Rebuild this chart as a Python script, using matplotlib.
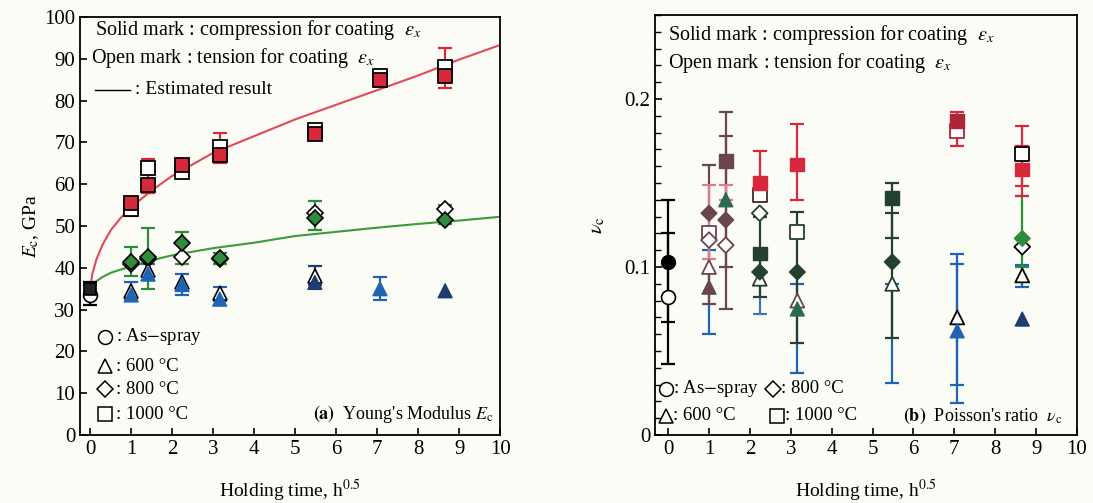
import matplotlib
matplotlib.use('Agg')
import matplotlib.pyplot as plt
import numpy as np

plt.rcParams['font.family'] = ['Liberation Serif', 'DejaVu Sans']
plt.rcParams['mathtext.fontset'] = 'stix'

BG = '#fcfcf6'
RED = '#d8283c'
GREEN = '#2f8c3c'
BLUE = '#1f64b0'
NAVY = '#1c3d6e'
MAUVE = '#6a4450'
DKGREEN = '#24402f'
TEAL = '#2a6a55'

# ---------------- (a) Young's modulus ----------------
# as-spray
x_as = [0]
E_as_solid = [35.0]
E_as_open = [33.5]
# 1000 C squares
x1000 = [1, 1.41, 2.24, 3.16, 5.48, 7.07, 8.66]
E1000_solid = [55.5, 59.8, 64.5, 67.0, 72.0, 85.0, 86.0]
E1000_open = [54.0, 63.8, 63.0, 69.0, 73.0, 85.8, 88.0]
# 800 C diamonds
x800 = [1, 1.41, 2.24, 3.16, 5.48, 8.66]
E800_solid = [41.5, 42.5, 46.0, 42.3, 52.0, 51.5]
E800_open = [40.8, 42.0, 42.5, 42.0, 53.0, 54.0]
# 600 C triangles
x600 = [1, 1.41, 2.24, 3.16, 5.48, 7.07, 8.66]
E600_solid = [33.5, 38.5, 36.0, 32.5, 36.5, 35.0, 34.5]
E600_solid_c = [BLUE, BLUE, BLUE, BLUE, NAVY, BLUE, NAVY]
x600_open = [1, 1.41, 2.24, 3.16, 5.48]
E600_open = [34.5, 39.5, 36.5, 34.0, 38.0]

# error bars (x, low, high, colour)
E_err = [
    (0, 31.0, 36.0, 'k'), (0, 34.0, 36.5, 'k'),
    (1, 52.5, 57.0, RED), (1.41, 58.0, 66.0, RED), (2.24, 61.5, 66.0, RED),
    (3.16, 65.0, 72.3, RED), (5.48, 71.0, 74.0, RED), (7.07, 84.0, 87.0, RED),
    (8.66, 83.0, 92.5, RED),
    (1, 38.0, 45.0, GREEN), (1.41, 35.0, 49.5, GREEN), (2.24, 41.0, 48.5, GREEN),
    (3.16, 41.0, 43.5, GREEN), (5.48, 49.0, 56.0, GREEN), (8.66, 50.5, 55.0, GREEN),
    (1, 32.5, 36.5, BLUE), (1.41, 37.0, 41.0, BLUE), (2.24, 33.5, 38.5, BLUE),
    (3.16, 32.0, 35.5, BLUE), (5.48, 36.0, 40.5, NAVY), (7.07, 32.3, 37.9, BLUE),
]

# estimated result curves
fit_x = [0, 0.05, 0.15, 0.3, 0.5, 0.75, 1, 1.5, 2, 3, 4, 5, 6, 7, 8, 9, 10]
fit1000 = [35, 38.5, 42, 45.5, 49, 52, 54.5, 58.5, 62, 67.5, 71.5, 75.5, 79, 82.5, 86, 89.8, 93.3]
fit800 = [35, 35.8, 36.8, 37.8, 38.8, 39.6, 40.3, 41.8, 43, 44.7, 46, 47.6, 48.6, 49.6, 50.5, 51.3, 52.2]

# ---------------- (b) Poisson's ratio ----------------
nu_circ_solid = [0.103]
nu_circ_open = [0.082]

xs_sq_solid = [1.41, 2.24, 2.24, 3.16, 5.48, 7.07, 8.66]
nu_sq_solid = [0.163, 0.150, 0.108, 0.161, 0.141, 0.187, 0.158]
c_sq_solid = [MAUVE, RED, DKGREEN, RED, DKGREEN, '#b0243a', RED]
xs_sq_open = [1, 2.24, 3.16, 7.07, 8.66]
nu_sq_open = [0.120, 0.143, 0.121, 0.181, 0.167]
c_sq_open = [MAUVE, '#3a2a2a', DKGREEN, '#b0243a', 'k']

xs_di_solid = [1, 1.41, 2.24, 3.16, 5.48, 8.66]
nu_di_solid = [0.132, 0.128, 0.097, 0.097, 0.103, 0.117]
c_di_solid = [MAUVE, MAUVE, DKGREEN, DKGREEN, DKGREEN, GREEN]
xs_di_open = [1, 1.41, 2.24, 8.66]
nu_di_open = [0.116, 0.113, 0.132, 0.112]
c_di_open = [MAUVE, MAUVE, DKGREEN, 'k']

xs_tr_solid = [1, 1.41, 3.16, 7.07, 8.66]
nu_tr_solid = [0.088, 0.140, 0.075, 0.062, 0.069]
c_tr_solid = [MAUVE, TEAL, TEAL, BLUE, NAVY]
xs_tr_open = [1, 2.24, 3.16, 5.48, 7.07, 8.66]
nu_tr_open = [0.100, 0.093, 0.080, 0.090, 0.070, 0.095]
c_tr_open = [MAUVE, DKGREEN, MAUVE, DKGREEN, 'k', 'k']

nu_err = [
    (0, 0.067, 0.140, 'k'), (0, 0.042, 0.120, 'k'),
    (1, 0.060, 0.110, BLUE), (1, 0.078, 0.161, MAUVE), (1, 0.105, 0.149, '#e07a8a'),
    (1.41, 0.075, 0.192, MAUVE), (1.41, 0.100, 0.178, MAUVE), (1.41, 0.140, 0.149, '#e07a8a'),
    (2.24, 0.072, 0.108, '#3a7ab0'), (2.24, 0.082, 0.130, DKGREEN), (2.24, 0.140, 0.169, RED),
    (3.16, 0.037, 0.090, BLUE), (3.16, 0.055, 0.133, DKGREEN), (3.16, 0.140, 0.185, RED),
    (5.48, 0.031, 0.090, BLUE), (5.48, 0.058, 0.150, DKGREEN), (5.48, 0.117, 0.132, DKGREEN),
    (7.07, 0.019, 0.108, BLUE), (7.07, 0.030, 0.102, BLUE), (7.07, 0.172, 0.192, RED),
    (8.66, 0.088, 0.101, BLUE), (8.66, 0.100, 0.142, GREEN), (8.66, 0.142, 0.184, RED),
    (8.66, 0.148, 0.172, RED),
]


def draw_err(ax, bars):
    for x, lo, hi, c in bars:
        ax.errorbar([x], [(lo + hi) / 2], yerr=[(hi - lo) / 2], fmt='none',
                    ecolor=c, elinewidth=1.6, capsize=5, capthick=1.6, zorder=2)


fig = plt.figure(figsize=(10.93, 5.03), dpi=100, facecolor=BG)
axA = fig.add_axes([0.0732, 0.1352, 0.3843, 0.831], facecolor=BG)
axB = fig.add_axes([0.5993, 0.1352, 0.3861, 0.835], facecolor=BG)

# ---- panel a ----
axA.plot(fit_x, fit1000, color='#e04a55', lw=1.5, zorder=1)
axA.plot(fit_x, fit800, color='#3c9a3c', lw=1.5, zorder=1)
draw_err(axA, E_err)
ms = 10
axA.plot(x_as, E_as_open, 'o', ms=ms, mfc='white', mec='k', mew=1.2, zorder=3)
axA.plot(x_as, E_as_solid, 's', ms=ms - 1, mfc='#222222', mec='k', mew=1.2, zorder=4)
axA.plot(x1000, E1000_open, 's', ms=ms, mfc='white', mec='k', mew=1.3, zorder=3)
axA.plot(x1000, E1000_solid, 's', ms=ms, mfc=RED, mec='k', mew=1.3, zorder=4)
axA.plot(x800, E800_open, 'D', ms=ms - 2, mfc='white', mec='k', mew=1.2, zorder=3)
axA.plot(x800, E800_solid, 'D', ms=ms - 2, mfc=GREEN, mec='k', mew=1.2, zorder=4)
axA.plot(x600_open, E600_open, '^', ms=ms, mfc='white', mec='k', mew=1.2, zorder=3)
axA.scatter(x600, E600_solid, marker='^', s=ms ** 2, c=E600_solid_c,
            edgecolors=E600_solid_c, zorder=4)

axA.set_xlim(-0.25, 10)
axA.set_ylim(0, 100)
axA.set_xticks(range(0, 11))
axA.set_yticks(range(0, 101, 10))
axA.tick_params(direction='in', labelsize=15, length=5, width=1.2)
axA.set_xlabel('Holding time, h$^{0.5}$', fontsize=14, labelpad=14)
axA.set_ylabel('$E_\\mathrm{c}$, GPa', fontsize=14, labelpad=2)

tA = axA.transAxes
axA.text(0.036, 0.969, 'Solid mark : compression for coating  $\\varepsilon_x$',
         transform=tA, fontsize=14.5, va='center')
axA.text(0.026, 0.902, 'Open mark : tension for coating  $\\varepsilon_x$',
         transform=tA, fontsize=14.5, va='center')
axA.plot([0.036, 0.12], [0.826, 0.826], color='k', lw=1, transform=tA)
axA.text(0.13, 0.826, ': Estimated result', transform=tA, fontsize=14, va='center')
leg_labels = [': As$-$spray', ': 600 °C', ': 800 °C', ': 1000 °C']
leg_marks = ['o', '^', 'D', 's']
leg_y = [0.235, 0.165, 0.11, 0.05]
for m, lab, yy in zip(leg_marks, leg_labels, leg_y):
    axA.plot([0.06], [yy], marker=m, ms=10 if m != 'D' else 8, mfc='none', mec='k',
             mew=1.1, transform=tA, clip_on=False)
    axA.text(0.085, yy, lab, transform=tA, fontsize=13.5, va='center')
axA.text(0.985, 0.05, "$\\mathbf{(a)}$  Young's Modulus $E_\\mathrm{c}$", transform=tA,
         fontsize=13, va='center', ha='right')

# ---- panel b ----
draw_err(axB, nu_err)
axB.plot([0], nu_circ_open, 'o', ms=ms, mfc='white', mec='k', mew=1.2, zorder=3)
axB.plot([0], nu_circ_solid, 'o', ms=ms, mfc='k', mec='k', zorder=4)
axB.scatter(xs_sq_open, nu_sq_open, marker='s', s=ms ** 2, facecolors='white',
            edgecolors=c_sq_open, linewidths=1.3, zorder=3)
axB.scatter(xs_sq_solid, nu_sq_solid, marker='s', s=ms ** 2, c=c_sq_solid,
            edgecolors=c_sq_solid, zorder=4)
axB.scatter(xs_di_open, nu_di_open, marker='D', s=(ms - 2) ** 2, facecolors='white',
            edgecolors=c_di_open, linewidths=1.3, zorder=3)
axB.scatter(xs_di_solid, nu_di_solid, marker='D', s=(ms - 2) ** 2, c=c_di_solid,
            edgecolors=c_di_solid, zorder=4)
axB.scatter(xs_tr_open, nu_tr_open, marker='^', s=ms ** 2, facecolors='white',
            edgecolors=c_tr_open, linewidths=1.3, zorder=3)
axB.scatter(xs_tr_solid, nu_tr_solid, marker='^', s=ms ** 2, c=c_tr_solid,
            edgecolors=c_tr_solid, zorder=4)

axB.set_xlim(-0.32, 10)
axB.set_ylim(0, 0.25)
axB.set_xticks(range(0, 11))
axB.set_yticks([0, 0.1, 0.2])
axB.set_yticklabels(['0', '0.1', '0.2'])
axB.set_yticks(np.arange(0, 0.251, 0.01), minor=True)
axB.tick_params(direction='in', labelsize=15, length=5, width=1.2)
axB.tick_params(which='minor', direction='in', length=4, width=1)
axB.set_xlabel('Holding time, h$^{0.5}$', fontsize=14, labelpad=14)
axB.set_ylabel('$\\nu_\\mathrm{c}$', fontsize=15, labelpad=12)

tB = axB.transAxes
axB.text(0.03, 0.952, 'Solid mark : compression for coating  $\\varepsilon_x$',
         transform=tB, fontsize=14.5, va='center')
axB.text(0.03, 0.886, 'Open mark : tension for coating  $\\varepsilon_x$',
         transform=tB, fontsize=14.5, va='center')
for m, lab, xx, yy in [('o', ': As$-$spray', 0.025, 0.11), ('D', ': 800 °C', 0.28, 0.11),
                       ('^', ': 600 °C', 0.025, 0.046), ('s', ': 1000 °C', 0.29, 0.046)]:
    axB.plot([xx], [yy], marker=m, ms=10 if m != 'D' else 8, mfc='none', mec='k',
             mew=1.1, transform=tB, clip_on=False)
    axB.text(xx + 0.018, yy, lab, transform=tB, fontsize=13.5, va='center')
axB.text(0.965, 0.046, "$\\mathbf{(b)}$  Poisson's ratio  $\\nu_\\mathrm{c}$", transform=tB,
         fontsize=13, va='center', ha='right')

for ax in (axA, axB):
    for s in ax.spines.values():
        s.set_linewidth(1.3)

fig.savefig('out.png', dpi=100, facecolor=BG)
